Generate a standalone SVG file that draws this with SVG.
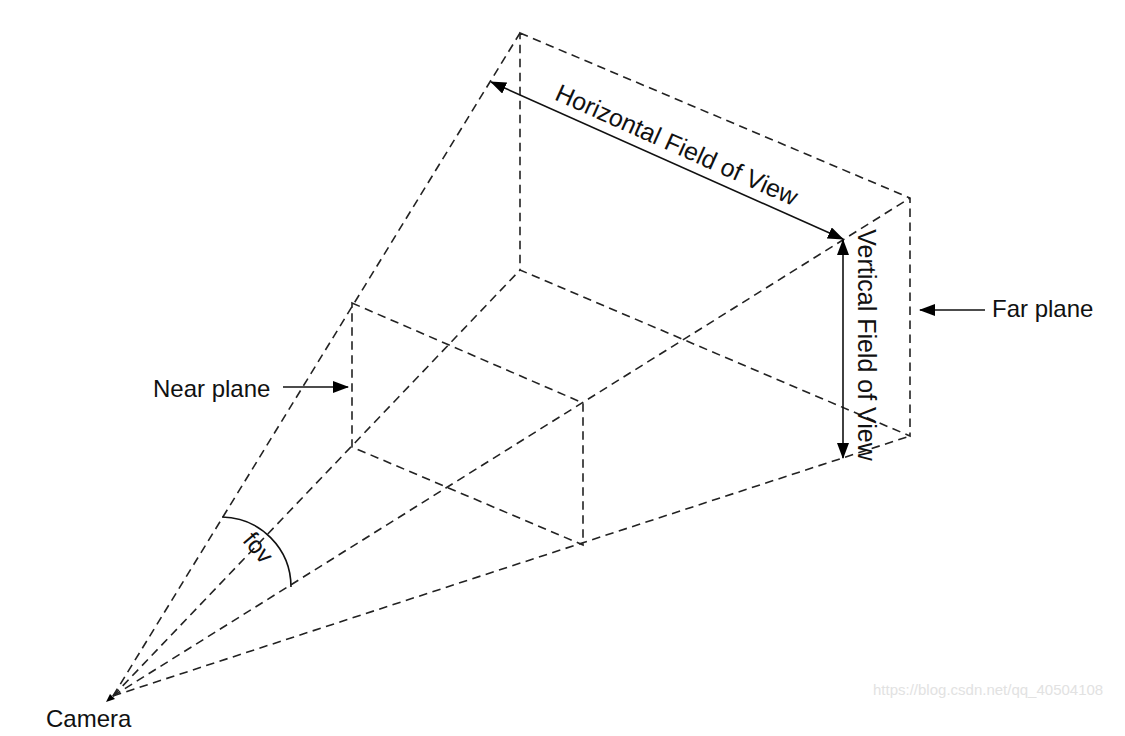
<svg xmlns="http://www.w3.org/2000/svg" width="1125" height="736" viewBox="0 0 1125 736">
<style>
.d{fill:none;stroke:#222;stroke-width:1.6;stroke-dasharray:8.5 5.5}
.s{fill:none;stroke:#111;stroke-width:1.6}
.t{font-family:"Liberation Sans",Arial,sans-serif;font-size:24px;fill:#111}
.b{font-size:25px}
.w{font-family:"Liberation Sans",Arial,sans-serif;font-size:15px;fill:#e2e2e2}
</style>
<defs>
<marker id="ah" viewBox="0 0 16 12" refX="15" refY="6" markerWidth="16" markerHeight="12" markerUnits="userSpaceOnUse" orient="auto-start-reverse">
<path d="M0,0 L16,6 L0,12 Z" fill="#000"/>
</marker>
</defs>
<rect width="1125" height="736" fill="#fff"/>
<g id="frustum">
<path class="d" d="M113,696 L520,33"/>
<path class="d" d="M113,696 L520,270"/>
<path class="d" d="M113,696 L910,198"/>
<path class="d" d="M113,696 L910,436"/>
</g>
<g id="far-plane">
<path class="d" d="M520,33 L910,198 L910,436 L520,270 Z"/>
</g>
<g id="near-plane">
<path class="d" d="M352,303 L583,403 L583,545 L352,447 Z"/>
</g>
<g id="camera">
<path d="M106,702 L110,694 L115,699 Z" fill="#000"/>
<text class="t" x="46" y="727">Camera</text>
</g>
<g id="fov">
<path class="s" d="M222,517 A70,70 0 0 1 291,587" stroke-width="1.4"/>
<text class="t" text-anchor="middle" transform="translate(252,553) rotate(50)">fov</text>
</g>
<g id="connectors">
<line class="s" x1="491" y1="82" x2="843" y2="239" marker-start="url(#ah)" marker-end="url(#ah)"/>
<line class="s" x1="843" y1="240" x2="843" y2="458" marker-start="url(#ah)" marker-end="url(#ah)"/>
<line class="s" x1="985" y1="310" x2="920" y2="310" marker-end="url(#ah)"/>
<line class="s" x1="283" y1="387" x2="348" y2="387" marker-end="url(#ah)"/>
</g>
<g id="hfov-label">
<text class="t b" text-anchor="middle" transform="translate(670,160) rotate(24.1) translate(0,-8)">Horizontal Field of View</text>
</g>
<g id="vfov-label">
<text class="t b" text-anchor="middle" transform="translate(858,345) rotate(90)">Vertical Field of View</text>
</g>
<g id="far-label">
<text class="t" x="992" y="317">Far plane</text>
</g>
<g id="near-label">
<text class="t" x="153" y="397">Near plane</text>
</g>
<text class="w" x="873" y="695">https://blog.csdn.net/qq_40504108</text>
</svg>
